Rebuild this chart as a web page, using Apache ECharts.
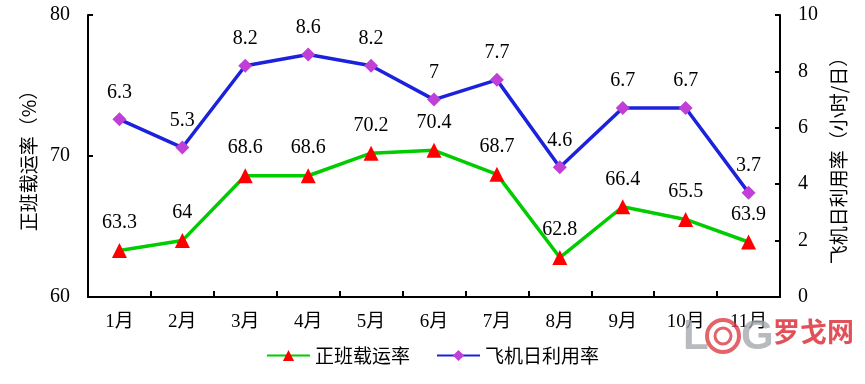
<!DOCTYPE html>
<html><head><meta charset="utf-8">
<script src="https://cdn.jsdelivr.net/npm/echarts@6/dist/echarts.min.js"></script>
<style>html,body{margin:0;padding:0;background:#fff}#c{width:865px;height:384px}</style>
</head><body><div id="c"></div>
<script>
var categories = ['1月','2月','3月','4月','5月','6月','7月','8月','9月','10月','11月'];
var loadRate = [63.3, 64, 68.6, 68.6, 70.2, 70.4, 68.7, 62.8, 66.4, 65.5, 63.9];
var utilization = [6.3, 5.3, 8.2, 8.6, 8.2, 7, 7.7, 4.6, 6.7, 6.7, 3.7];
var FONT = '"Liberation Serif", "Times New Roman", "Noto Sans CJK SC", serif';
var CJK = '"Noto Sans CJK SC", sans-serif';
var chart = echarts.init(document.getElementById('c'));
var axisLine = {show: true, lineStyle: {color: '#000', width: 2}};
chart.setOption({
  animation: false,
  textStyle: {fontFamily: FONT},
  grid: {left: 88, right: 85, top: 15, bottom: 87},
  legend: {
    top: 341, left: 'center', itemGap: 26, itemWidth: 43, itemHeight: 14,
    textStyle: {fontSize: 19, color: '#000', fontFamily: CJK},
    data: ['正班载运率', '飞机日利用率']
  },
  xAxis: {
    type: 'category', data: categories, boundaryGap: true,
    axisLine: axisLine,
    axisTick: {show: true, inside: true, length: 6, lineStyle: {color: '#000', width: 2}},
    axisLabel: {fontSize: 19, color: '#000', margin: 16, fontFamily: FONT}
  },
  yAxis: [{
    type: 'value', min: 60, max: 80, interval: 10,
    name: '正班载运率（%）', nameLocation: 'middle', nameGap: 50, nameRotate: 90,
    nameTextStyle: {fontSize: 19, color: '#000', fontFamily: CJK},
    axisLine: axisLine,
    axisTick: {show: true, inside: true, length: 5, lineStyle: {color: '#000', width: 2}},
    axisLabel: {fontSize: 20, color: '#000', margin: 18, fontFamily: FONT},
    splitLine: {show: false}
  }, {
    type: 'value', min: 0, max: 10, interval: 2, position: 'right',
    name: '飞机日利用率（小时/日）', nameLocation: 'middle', nameGap: 47, nameRotate: 90,
    nameTextStyle: {fontSize: 19, color: '#000', fontFamily: CJK},
    axisLine: axisLine,
    axisTick: {show: true, inside: true, length: 5, lineStyle: {color: '#000', width: 2}},
    axisLabel: {fontSize: 20, color: '#000', margin: 18, fontFamily: FONT},
    splitLine: {show: false}
  }],
  series: [{
    name: '正班载运率', type: 'line', yAxisIndex: 0, data: loadRate,
    symbol: 'triangle', symbolSize: 15,
    lineStyle: {color: '#00CC00', width: 3.5},
    itemStyle: {color: '#FF0000'},
    label: {show: true, position: 'top', distance: 10, fontSize: 20, color: '#000', fontFamily: FONT}
  }, {
    name: '飞机日利用率', type: 'line', yAxisIndex: 1, data: utilization,
    symbol: 'diamond', symbolSize: 14,
    lineStyle: {color: '#1C22DC', width: 3.5},
    itemStyle: {color: '#C03FD6'},
    label: {show: true, position: 'top', distance: 10, fontSize: 20, color: '#000', fontFamily: FONT}
  }],
  graphic: [{
    type: 'text', left: 683, top: 316, z: 100,
    style: {text: 'L', fontSize: 42, fontWeight: 'bold', fill: 'rgba(165,170,175,0.8)', fontFamily: 'Liberation Sans'}
  }, {
    type: 'circle', shape: {cx: 723, cy: 336, r: 16}, z: 100,
    style: {fill: 'none', stroke: 'rgba(220,60,70,0.8)', lineWidth: 4}
  }, {
    type: 'circle', shape: {cx: 723, cy: 336, r: 8}, z: 100,
    style: {fill: 'none', stroke: 'rgba(220,60,70,0.8)', lineWidth: 3}
  }, {
    type: 'text', left: 741, top: 316, z: 100,
    style: {text: 'G', fontSize: 42, fontWeight: 'bold', fill: 'rgba(165,170,175,0.8)', fontFamily: 'Liberation Sans'}
  }, {
    type: 'text', left: 773, top: 318, z: 100,
    style: {text: '罗戈网', fontSize: 27, fontWeight: 'bold', fill: 'rgba(220,50,60,0.85)', fontFamily: CJK}
  }]
});
</script></body></html>
